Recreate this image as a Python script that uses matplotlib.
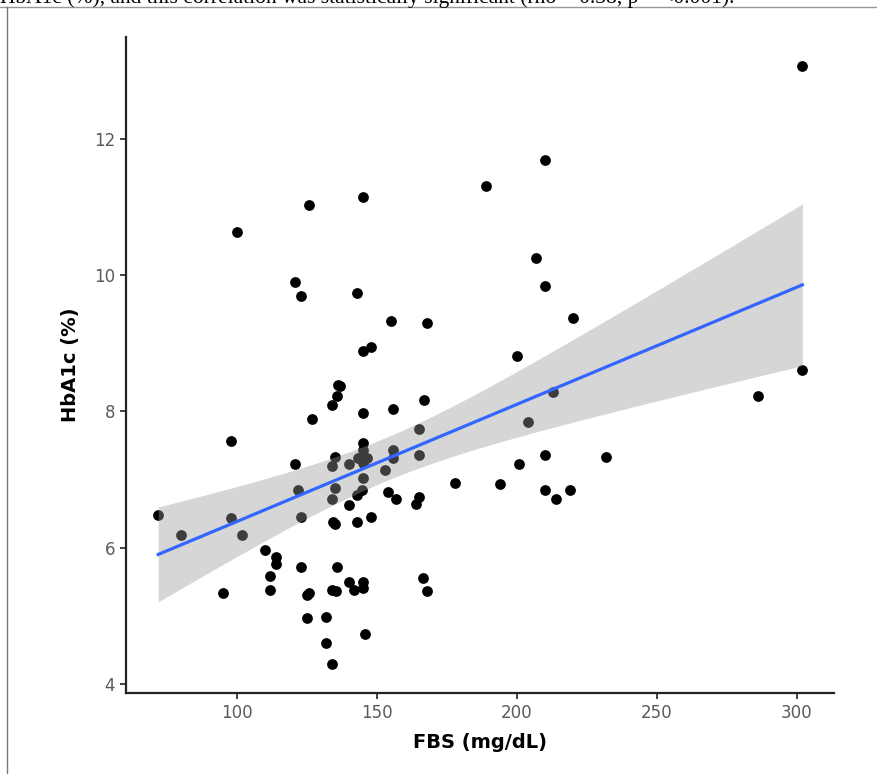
import matplotlib.pyplot as plt
import numpy as np

# FBS (mg/dL) and HbA1c (%)
fbs = [72, 80, 95, 98, 98, 100, 102, 110, 112, 112, 114, 114, 121, 121, 122, 123,
       123, 123, 125, 126, 125, 126, 127, 132, 132, 134, 134, 134, 134, 134, 134.5,
       135, 135, 135, 135.5, 136, 136, 136.3, 137, 140, 140, 140.2, 142, 143, 143,
       143, 143.4, 144.6, 145, 145, 145, 145, 145, 145.2, 145.2, 145.2, 145.2, 146,
       146.4, 148, 148, 153, 154, 155, 156, 156, 156, 157, 164, 165, 165, 165, 166.6,
       167, 168, 168, 178, 189, 194, 200, 201, 204, 207, 210, 210, 210, 210, 213,
       214, 219, 220, 232, 286, 302, 302]
hba1c = [6.48, 6.18, 5.34, 7.56, 6.44, 10.63, 6.19, 5.97, 5.58, 5.38, 5.86, 5.76,
         9.89, 7.23, 6.85, 9.69, 6.45, 5.72, 5.31, 5.33, 4.97, 11.03, 7.89, 4.61,
         4.98, 8.10, 7.20, 6.71, 5.38, 4.30, 6.37, 6.35, 7.33, 6.88, 5.37, 8.22,
         5.72, 8.39, 8.37, 7.23, 5.50, 6.63, 5.38, 9.74, 6.37, 6.78, 7.31, 6.85,
         11.14, 8.89, 7.98, 7.54, 7.44, 7.24, 7.02, 5.49, 5.41, 4.74, 7.31, 8.95,
         6.45, 7.14, 6.81, 9.32, 8.03, 7.44, 7.31, 6.71, 6.64, 7.74, 7.36, 6.75,
         5.55, 8.17, 9.30, 5.36, 6.95, 11.31, 6.94, 8.81, 7.23, 7.84, 10.25, 11.68,
         9.84, 7.36, 6.85, 8.29, 6.71, 6.84, 9.37, 7.33, 8.22, 13.06, 8.61]

x_ticks = [100, 150, 200, 250, 300]
y_ticks = [4, 6, 8, 10, 12]

x = np.array(fbs, dtype=float)
y = np.array(hba1c, dtype=float)

# linear fit with 95% confidence band (like geom_smooth(method = "lm"))
n = len(x)
slope, intercept = np.polyfit(x, y, 1)
resid = y - (intercept + slope * x)
s = np.sqrt(np.sum(resid ** 2) / (n - 2))
xs = np.linspace(x.min(), x.max(), 200)
fit = intercept + slope * xs
se = s * np.sqrt(1 / n + (xs - x.mean()) ** 2 / np.sum((x - x.mean()) ** 2))
t_crit = 1.987
lo, hi = fit - t_crit * se, fit + t_crit * se

fig = plt.figure(figsize=(8.78, 7.74), dpi=100)
ax = fig.add_axes([0.1435, 0.1047, 0.8064, 0.8475])

ax.scatter(x, y, s=60, color='black', linewidths=0, zorder=2)
ax.fill_between(xs, lo, hi, color='#999999', alpha=0.4, linewidth=0, zorder=3)
ax.plot(xs, fit, color='#3366FF', linewidth=2.3, zorder=4)

ax.set_xlim(60.5, 313.3)
ax.set_ylim(3.87, 13.49)
ax.set_xticks(x_ticks)
ax.set_yticks(y_ticks)

for side in ['top', 'right']:
    ax.spines[side].set_visible(False)
for side in ['left', 'bottom']:
    ax.spines[side].set_linewidth(1.6)
    ax.spines[side].set_color('#222222')
ax.tick_params(length=4, width=1.3, color='#333333', labelcolor='#5a5a5a',
               labelsize=12, pad=4)

ax.set_xlabel('FBS (mg/dL)', fontsize=14, fontweight='bold', labelpad=8)
ax.set_ylabel('HbA1c (%)', fontsize=14, fontweight='bold', labelpad=10)

# page crop: sentence above the figure and frame lines
fig.text(0.0, 1.003, 'HbA1c (%), and this correlation was statistically significant '
         '(rho = 0.38, p = <0.001).', family='Liberation Serif', fontsize=15.5,
         ha='left', va='center', color='black')
fig.add_artist(plt.Line2D([0, 1], [0.991, 0.991], color='#999999', linewidth=1))
fig.add_artist(plt.Line2D([0.008, 0.008], [0, 0.991], color='#777777', linewidth=1))

fig.savefig('out.png', dpi=100)
